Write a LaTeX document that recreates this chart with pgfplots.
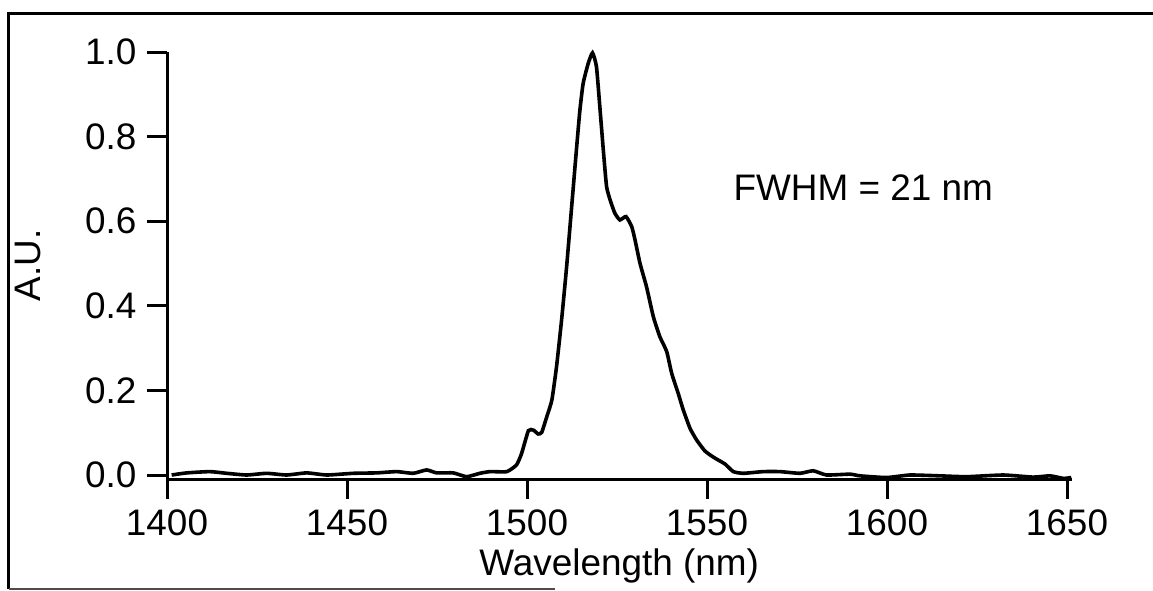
\documentclass[border=0pt]{standalone}
\usepackage{fontspec}
\setmainfont{Liberation Sans}
\usepackage{pgfplots}
\pgfplotsset{compat=1.18}

% Emission spectrum (normalised)
\pgfplotstableread{
wl      I
1401.3  0.000
1405.5  0.005
1411.9  0.008
1416.6  0.004
1422.1  0.000
1427.7  0.004
1433.2  0.000
1438.8  0.005
1444.4  0.000
1451.7  0.004
1458.2  0.005
1463.8  0.008
1468.4  0.004
1472.1  0.012
1474.9  0.005
1479.5  0.005
1483.2  -0.004
1486.9  0.004
1489.7  0.008
1494.4  0.008
1497.1  0.024
1498.5  0.051
1500.4  0.105
1501.8  0.106
1503.1  0.097
1504.1  0.101
1505.5  0.138
1506.9  0.177
1508.2  0.256
1509.6  0.366
1511.0  0.492
1512.4  0.634
1513.8  0.776
1514.7  0.863
1515.6  0.926
1517.0  0.973
1518.2  0.998
1519.3  0.965
1520.3  0.863
1521.2  0.768
1522.1  0.682
1523.1  0.650
1524.4  0.619
1525.8  0.603
1527.5  0.611
1529.1  0.587
1530.0  0.556
1531.4  0.500
1533.2  0.445
1535.1  0.374
1536.9  0.327
1538.8  0.292
1540.2  0.240
1542.0  0.193
1543.4  0.154
1545.3  0.110
1547.1  0.083
1549.4  0.057
1551.8  0.042
1555.0  0.026
1557.3  0.008
1560.1  0.004
1565.6  0.008
1570.3  0.008
1575.8  0.004
1579.5  0.010
1583.2  0.000
1589.7  0.002
1592.5  -0.002
1599.9  -0.006
1606.4  0.000
1614.7  -0.002
1622.1  -0.004
1632.3  0.000
1640.6  -0.005
1645.3  -0.002
1649.0  -0.008
1651.2  -0.006
}\spectrum

\begin{document}
\begin{tikzpicture}
\useasboundingbox (-55.67pt,-37pt) rectangle (328.67pt,159.67pt);
% frame
\draw[line width=1pt] (-52.67pt,-36.67pt) -- (-52.67pt,155.17pt) -- (328.67pt,155.17pt);
\draw[line width=0.7pt, black!70] (-52.67pt,-36.67pt) -- (129.33pt,-36.67pt);
\begin{axis}[
  at={(0pt,0pt)}, anchor=south west,
  scale only axis, width=301.5pt, height=142.33pt,
  xmin=1400, xmax=1651.25, ymin=-0.0095, ymax=1.0,
  axis x line=bottom, axis y line=left,
  axis line style={line width=1pt,-},
  tick align=outside, major tick length=6.67pt,
  tick style={line width=1pt, black},
  xtick={1400,1450,1500,1550,1600,1650},
  ytick={0,0.2,0.4,0.6,0.8,1.0},
  font=\fontsize{12.3}{14}\selectfont,
  /pgf/number format/assume math mode=true,
  /pgf/number format/1000 sep={},
  yticklabel style={/pgf/number format/fixed, /pgf/number format/fixed zerofill, /pgf/number format/precision=1},
  xlabel={Wavelength (nm)},
  ylabel={A.U.},
  xlabel style={at={(rel axis cs:0.5,0)}, anchor=base, yshift=-32.3pt},
  ylabel style={at={(rel axis cs:0,0.5)}, anchor=base, yshift=42.33pt},
  clip=false,
]
\addplot[black, line width=1.2pt, no markers, smooth, tension=0.3] table[x=wl, y=I] {\spectrum};
\node[anchor=base west, inner sep=0pt, font=\fontsize{12.3}{14}\selectfont] at (axis cs:1557.2,0.650) {FWHM = 21 nm};
\end{axis}
\end{tikzpicture}
\end{document}
